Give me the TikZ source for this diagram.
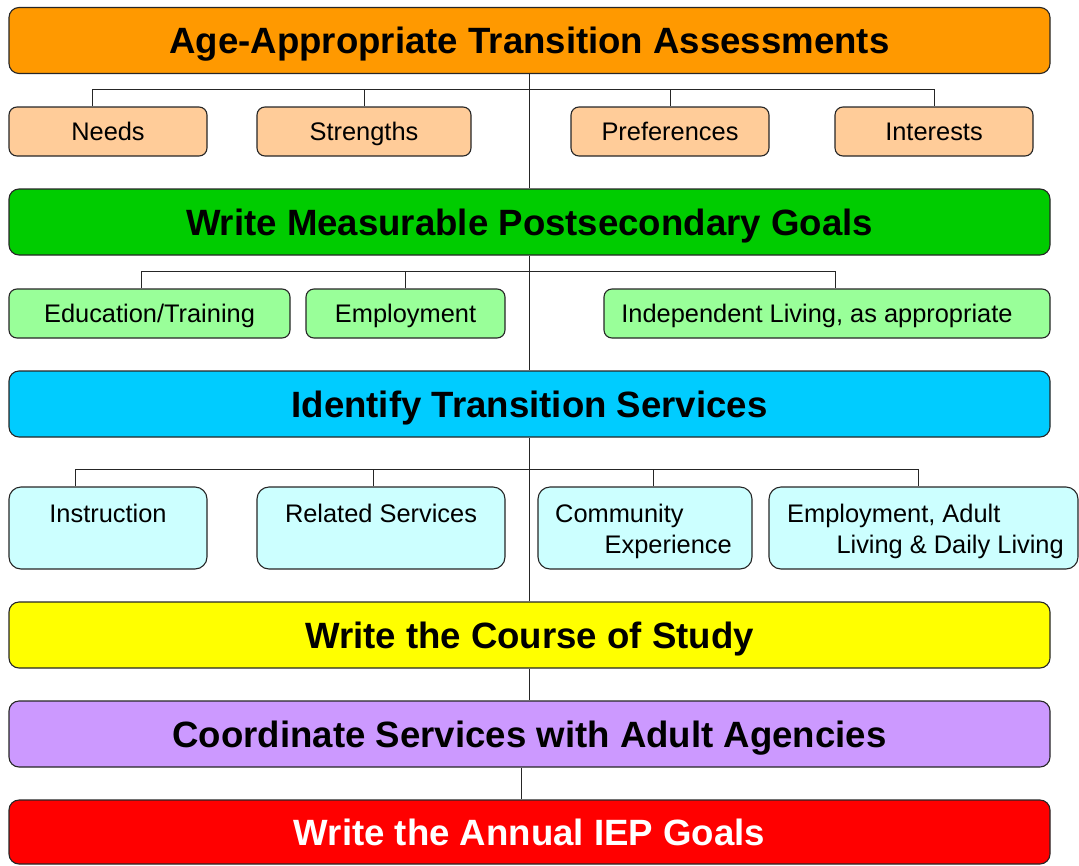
\documentclass[tikz,border=0pt]{standalone}
\usepackage{fontspec}
\setmainfont{Liberation Sans}
\definecolor{cOrange}{HTML}{FF9900}
\definecolor{cPeach}{HTML}{FFCC99}
\definecolor{cGreen}{HTML}{00CC00}
\definecolor{cLGreen}{HTML}{99FF99}
\definecolor{cBlue}{HTML}{00CCFF}
\definecolor{cLBlue}{HTML}{CCFFFF}
\definecolor{cYellow}{HTML}{FFFF00}
\definecolor{cPurple}{HTML}{CC99FF}
\definecolor{cRed}{HTML}{FF0000}
\tikzset{
  bigbox/.style={draw=black!85, line width=1.1pt, rounded corners=10pt, minimum width=1041pt, minimum height=66pt, inner sep=0pt, text height=26.2pt, text depth=0pt, font=\fontsize{36.6}{40}\selectfont\bfseries},
  smallbox/.style={draw=black!85, line width=1.1pt, rounded corners=8pt, minimum height=49pt, inner sep=0pt, text height=18.2pt, text depth=0pt, font=\fontsize{25.4}{28}\selectfont},
  tallbox/.style={draw=black!85, line width=1.1pt, rounded corners=12pt, minimum height=82pt, inner sep=0pt, fill=cLBlue},
  boxtext/.style={font=\fontsize{25.4}{31}\selectfont, inner sep=0pt},
  conn/.style={draw=black!85, line width=0.9pt}
}
\begin{document}
\begin{tikzpicture}[x=1pt,y=-1pt]
\useasboundingbox (0,0) rectangle (1079,865);
% big boxes
\node[bigbox, fill=cOrange] (assess) at (529.5,40.5) {Age-Appropriate Transition Assessments};
\node[bigbox, fill=cGreen] (goals) at (529.5,222) {Write Measurable Postsecondary Goals};
\node[bigbox, fill=cBlue] (services) at (529.5,404) {Identify Transition Services};
\node[bigbox, fill=cYellow] (study) at (529.5,635) {Write the Course of Study};
\node[bigbox, fill=cPurple] (agencies) at (529.5,734) {Coordinate Services with Adult Agencies};
\node[bigbox, fill=cRed, text=white, minimum height=64pt] (iep) at (529.5,832) {Write the Annual IEP Goals};
% row 1
\node[smallbox, fill=cPeach, minimum width=198pt] (needs) at (108,131.5) {Needs};
\node[smallbox, fill=cPeach, minimum width=214pt] (strengths) at (364,131.5) {Strengths};
\node[smallbox, fill=cPeach, minimum width=198pt] (prefs) at (670,131.5) {Preferences};
\node[smallbox, fill=cPeach, minimum width=198pt] (interests) at (934,131.5) {Interests};
% row 2
\node[smallbox, fill=cLGreen, minimum width=281pt] (edu) at (149.5,313.5) {Education/Training};
\node[smallbox, fill=cLGreen, minimum width=199pt] (employ) at (405.5,313.5) {Employment};
\node[smallbox, fill=cLGreen, minimum width=446pt] (indep) at (827,313.5) {Independent Living, as appropriate\hspace{20pt}\mbox{}};
% row 3
\node[tallbox, minimum width=198pt] (instr) at (108,528) {};
\node[boxtext, anchor=base] (instrt) at (108,522) {Instruction};
\node[tallbox, minimum width=248pt] (related) at (381,528) {};
\node[boxtext, anchor=base] (relatedt) at (381,522) {Related Services};
\node[tallbox, minimum width=214pt] (community) at (645,528) {};
\node[boxtext, anchor=base west] (comm1) at (555,522) {Community};
\node[boxtext, anchor=base east] (comm2) at (732,553) {Experience};
\node[tallbox, minimum width=309pt] (adult) at (923.5,528) {};
\node[boxtext, anchor=base west] (adult1) at (787,522) {Employment, Adult};
\node[boxtext, anchor=base east] (adult2) at (1064,553) {Living \& Daily Living};
% main spine
\draw[conn] (assess) -- (goals);
\draw[conn] (goals) -- (services);
\draw[conn] (services) -- (study);
\draw[conn] (study) -- (agencies);
\draw[conn] ([xshift=-8.5pt]agencies.south) -- ([xshift=-8.5pt]iep.north);
% row 1 bus
\draw[conn] ([xshift=-16pt]needs.north) -- ++(0,-17) -| (interests.north);
\draw[conn] (strengths.north) -- ++(0,-17);
\draw[conn] (prefs.north) -- ++(0,-17);
% row 2 bus
\draw[conn] ([xshift=-8.5pt]edu.north) -- ++(0,-17) -| ([xshift=8pt]indep.north);
\draw[conn] (employ.north) -- ++(0,-17);
% row 3 bus
\draw[conn] ([xshift=-33pt]instr.north) -- ++(0,-17) -| ([xshift=-5.5pt]adult.north);
\draw[conn] ([xshift=-8pt]related.north) -- ++(0,-17);
\draw[conn] ([xshift=8pt]community.north) -- ++(0,-17);
\end{tikzpicture}
\end{document}
